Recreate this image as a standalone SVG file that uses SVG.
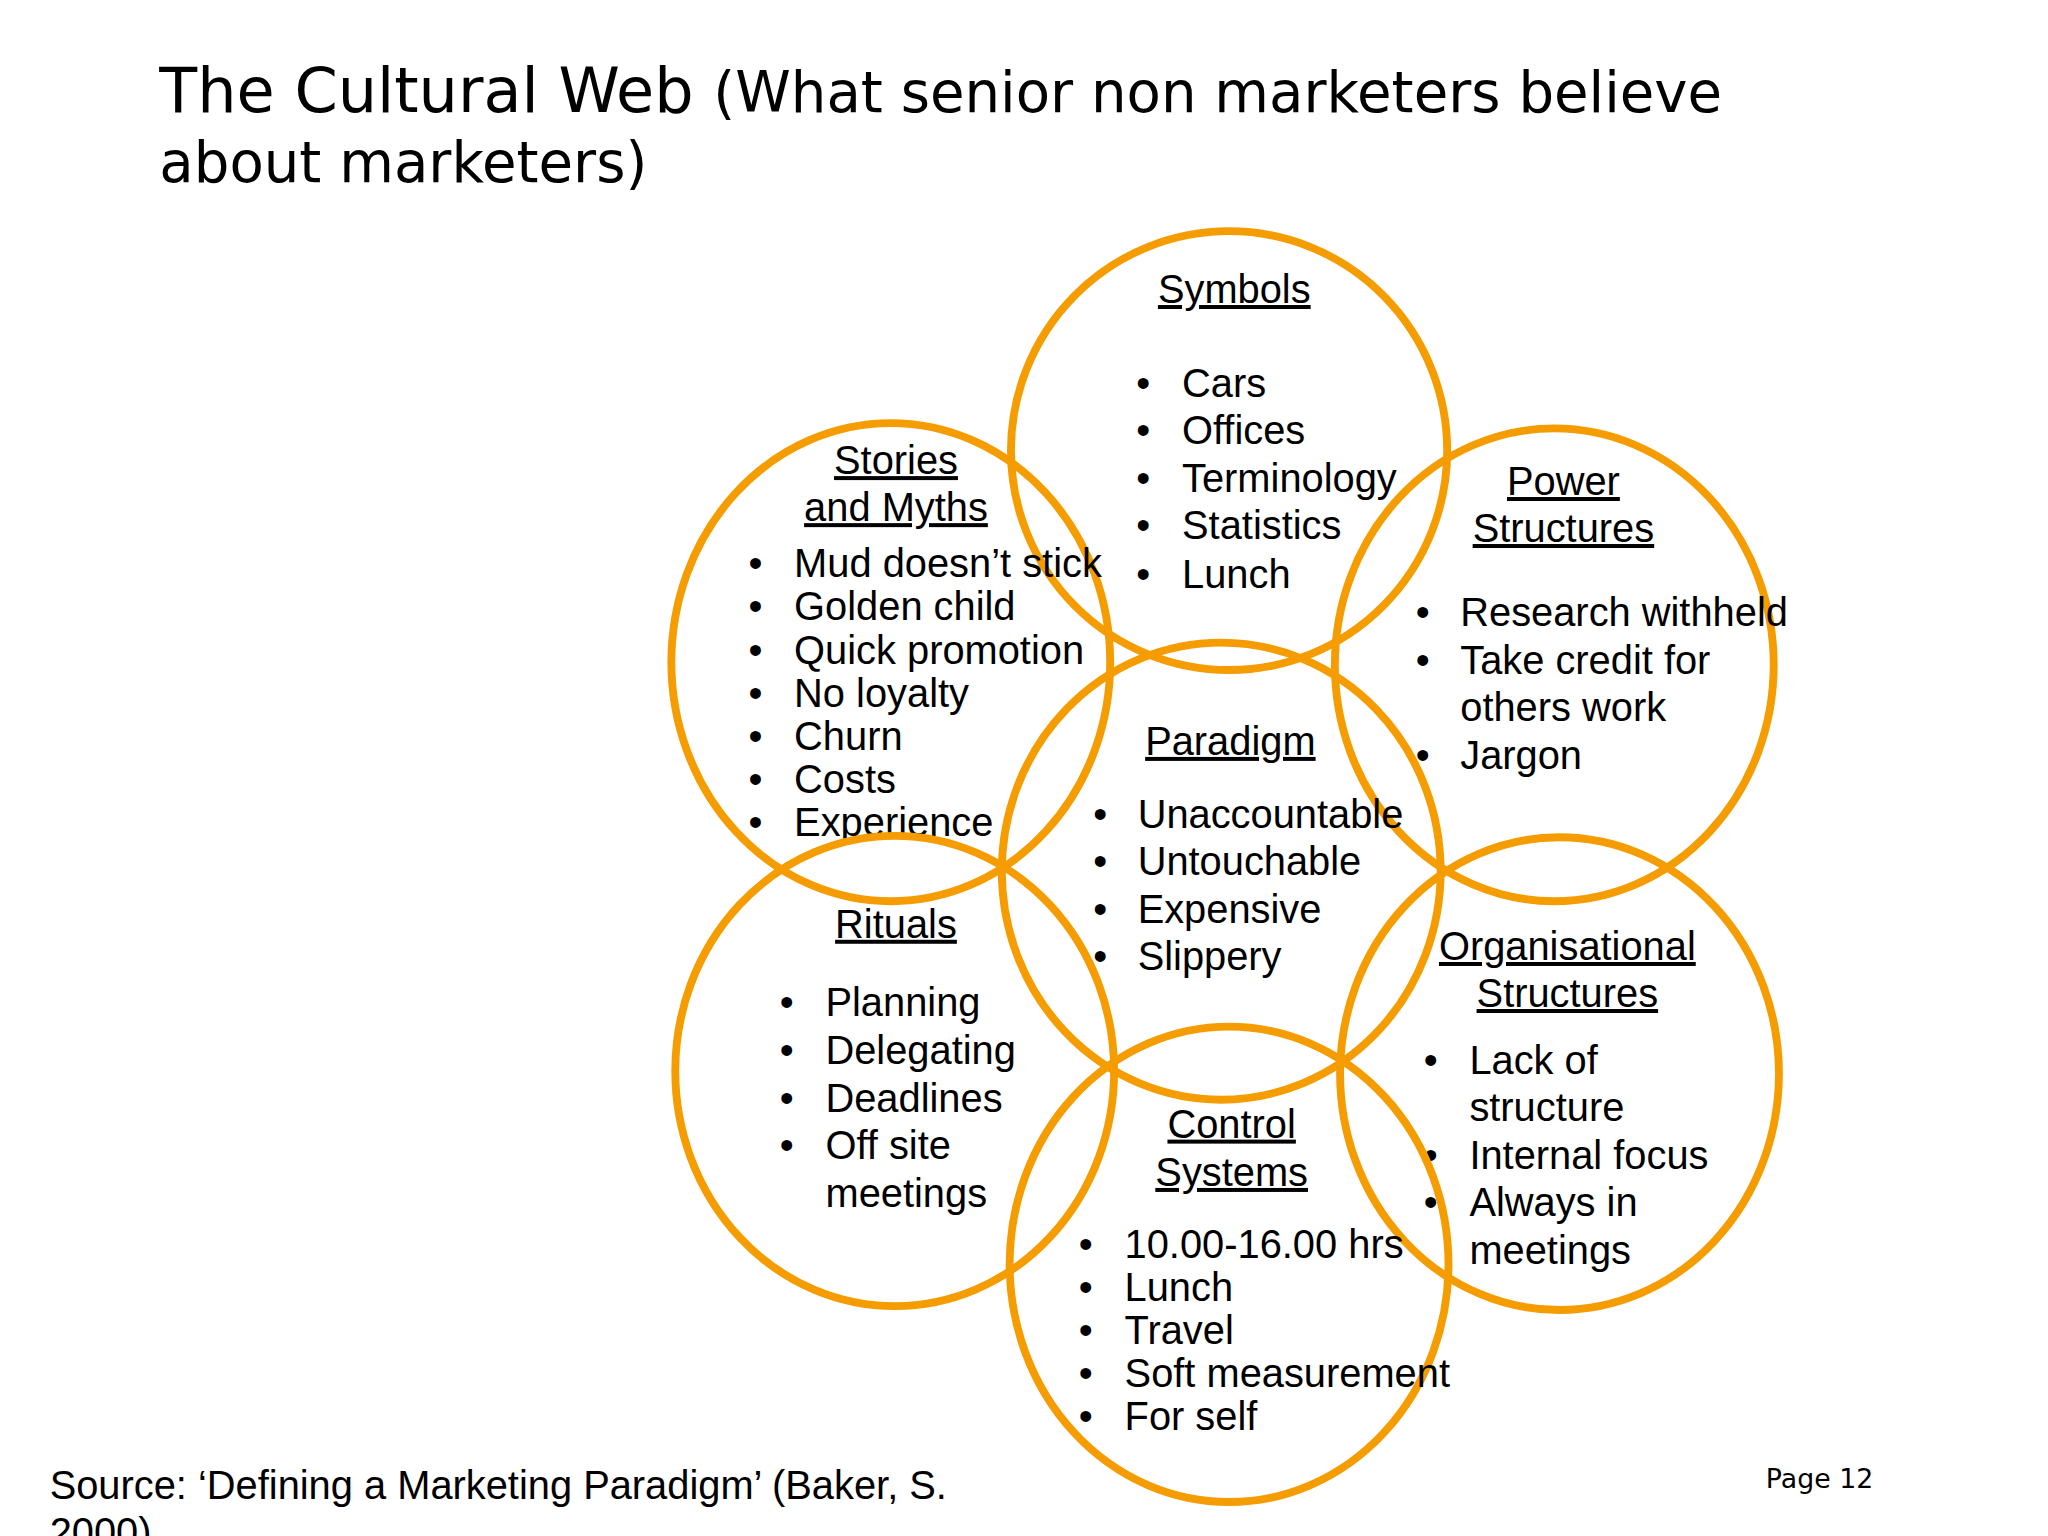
<svg xmlns="http://www.w3.org/2000/svg" width="2048" height="1536" viewBox="0 0 2048 1536">
<style>
.c{fill:none;stroke:#F59C00;stroke-width:6}
.t{font-family:"Liberation Sans",Arial,sans-serif;font-size:30.5px;fill:#000}
.h{text-decoration:underline;text-anchor:middle}
.ti{font-family:"DejaVu Sans",Verdana,sans-serif;fill:#000}
</style>
<rect width="2048" height="1536" fill="#fff"/>
<g transform="scale(1.30612)">
<g id="title" class="ti"><text x="122" y="86" font-size="47.5">The Cultural Web <tspan font-size="43">(What senior non marketers believe</tspan></text><text x="122" y="139" font-size="43">about marketers)</text></g>
<g id="symbols"><ellipse class="c" cx="941" cy="345" rx="167" ry="168"/>
<text class="t h" x="945" y="232">Symbols</text>
<g class="t"><text x="870" y="304">•</text><text x="905" y="304">Cars</text><text x="870" y="340">•</text><text x="905" y="340">Offices</text><text x="870" y="377">•</text><text x="905" y="377">Terminology</text><text x="870" y="413">•</text><text x="905" y="413">Statistics</text><text x="870" y="450">•</text><text x="905" y="450">Lunch</text></g></g>
<g id="stories"><ellipse class="c" cx="682" cy="507" rx="168" ry="183"/>
<text class="t h" x="686" y="363">Stories</text><text class="t h" x="686" y="399">and Myths</text>
<g class="t"><text x="573" y="442">•</text><text x="608" y="442">Mud doesn’t stick</text><text x="573" y="475">•</text><text x="608" y="475">Golden child</text><text x="573" y="508">•</text><text x="608" y="508">Quick promotion</text><text x="573" y="541">•</text><text x="608" y="541">No loyalty</text><text x="573" y="574">•</text><text x="608" y="574">Churn</text><text x="573" y="607">•</text><text x="608" y="607">Costs</text><text x="573" y="640">•</text><text x="608" y="640">Experience</text></g></g>
<g id="power"><ellipse class="c" cx="1190" cy="509" rx="168" ry="181"/>
<text class="t h" x="1197" y="379">Power</text><text class="t h" x="1197" y="415">Structures</text>
<g class="t"><text x="1084" y="479">•</text><text x="1118" y="479">Research withheld</text><text x="1084" y="516">•</text><text x="1118" y="516">Take credit for</text><text x="1118" y="552">others work</text><text x="1084" y="589">•</text><text x="1118" y="589">Jargon</text></g></g>
<g id="paradigm"><ellipse class="c" cx="935" cy="667" rx="168" ry="175"/>
<text class="t h" x="942" y="578">Paradigm</text>
<g class="t"><text x="837" y="634">•</text><text x="871" y="634">Unaccountable</text><text x="837" y="670">•</text><text x="871" y="670">Untouchable</text><text x="837" y="707">•</text><text x="871" y="707">Expensive</text><text x="837" y="743">•</text><text x="871" y="743">Slippery</text></g></g>
<g id="rituals"><ellipse class="c" cx="685" cy="820" rx="168" ry="180"/>
<text class="t h" x="686" y="718">Rituals</text>
<g class="t"><text x="597" y="778">•</text><text x="632" y="778">Planning</text><text x="597" y="815">•</text><text x="632" y="815">Delegating</text><text x="597" y="851">•</text><text x="632" y="851">Deadlines</text><text x="597" y="887">•</text><text x="632" y="887">Off site</text><text x="632" y="924">meetings</text></g></g>
<g id="org"><ellipse class="c" cx="1194" cy="822" rx="168" ry="181"/>
<text class="t h" x="1200" y="735">Organisational</text><text class="t h" x="1200" y="771">Structures</text>
<g class="t"><text x="1090" y="822">•</text><text x="1125" y="822">Lack of</text><text x="1125" y="858">structure</text><text x="1090" y="895">•</text><text x="1125" y="895">Internal focus</text><text x="1090" y="931">•</text><text x="1125" y="931">Always in</text><text x="1125" y="968">meetings</text></g></g>
<g id="control"><ellipse class="c" cx="941" cy="968" rx="168" ry="182"/>
<text class="t h" x="943" y="871">Control</text><text class="t h" x="943" y="908">Systems</text>
<g class="t"><text x="826" y="963">•</text><text x="861" y="963">10.00-16.00 hrs</text><text x="826" y="996">•</text><text x="861" y="996">Lunch</text><text x="826" y="1029">•</text><text x="861" y="1029">Travel</text><text x="826" y="1062">•</text><text x="861" y="1062">Soft measurement</text><text x="826" y="1095">•</text><text x="861" y="1095">For self</text></g></g>
<g id="connectors"/>
<g id="footer"><text class="t" x="38" y="1148" font-size="30.5">Source: ‘Defining a Marketing Paradigm’ (Baker, S.</text><text class="t" x="38" y="1184">2000)</text>
<text class="ti" x="1352" y="1139" font-size="20.5">Page 12</text></g>
</g>
</svg>
